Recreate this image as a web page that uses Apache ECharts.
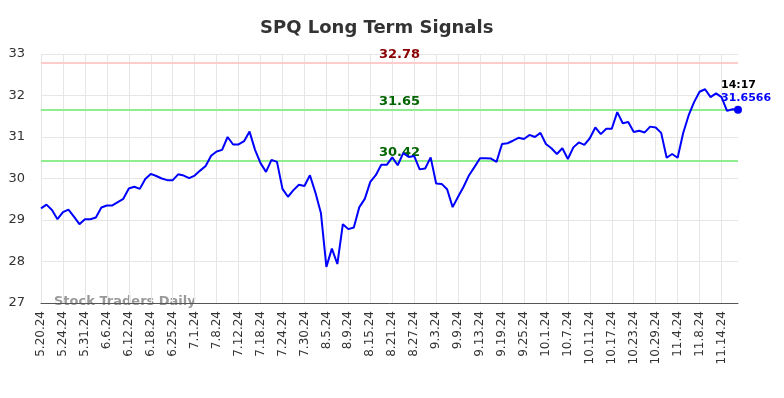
<!DOCTYPE html>
<html>
<head>
<meta charset="utf-8">
<style>
  html, body { margin: 0; padding: 0; background: #fff; }
  #chart { width: 784px; height: 398px; }
</style>
<script src="https://cdn.jsdelivr.net/npm/echarts@6/dist/echarts.min.js"></script>
</head>
<body>
<div id="chart"></div>
<script>
// trading days, 5.20.24 - 11.19.24
var dates = [
  '5.20.24','5.21.24','5.22.24','5.23.24','5.24.24','5.28.24','5.29.24','5.30.24','5.31.24',
  '6.3.24','6.4.24','6.5.24','6.6.24','6.7.24','6.10.24','6.11.24','6.12.24','6.13.24','6.14.24',
  '6.17.24','6.18.24','6.20.24','6.21.24','6.24.24','6.25.24','6.26.24','6.27.24','6.28.24',
  '7.1.24','7.2.24','7.3.24','7.5.24','7.8.24','7.9.24','7.10.24','7.11.24','7.12.24','7.15.24',
  '7.16.24','7.17.24','7.18.24','7.19.24','7.22.24','7.23.24','7.24.24','7.25.24','7.26.24',
  '7.29.24','7.30.24','7.31.24',
  '8.1.24','8.2.24','8.5.24','8.6.24','8.7.24','8.8.24','8.9.24','8.12.24','8.13.24','8.14.24',
  '8.15.24','8.16.24','8.19.24','8.20.24','8.21.24','8.22.24','8.23.24','8.26.24','8.27.24',
  '8.28.24','8.29.24','8.30.24',
  '9.3.24','9.4.24','9.5.24','9.6.24','9.9.24','9.10.24','9.11.24','9.12.24','9.13.24','9.16.24',
  '9.17.24','9.18.24','9.19.24','9.20.24','9.23.24','9.24.24','9.25.24','9.26.24','9.27.24','9.30.24',
  '10.1.24','10.2.24','10.3.24','10.4.24','10.7.24','10.8.24','10.9.24','10.10.24','10.11.24',
  '10.14.24','10.15.24','10.16.24','10.17.24','10.18.24','10.21.24','10.22.24','10.23.24',
  '10.24.24','10.25.24','10.28.24','10.29.24','10.30.24','10.31.24',
  '11.1.24','11.4.24','11.5.24','11.6.24','11.7.24','11.8.24','11.11.24','11.12.24','11.13.24',
  '11.14.24','11.15.24','11.18.24','11.19.24'
];

var prices = [
  29.28,29.37,29.24,29.02,29.19,29.25,29.08,28.90,29.02,29.02,
  29.06,29.30,29.35,29.35,29.43,29.51,29.76,29.80,29.75,29.99,
  30.11,30.06,30.00,29.96,29.96,30.10,30.07,30.01,30.07,30.19,
  30.30,30.55,30.65,30.69,31.00,30.82,30.82,30.90,31.13,30.69,
  30.37,30.16,30.45,30.40,29.75,29.56,29.72,29.85,29.82,30.08,
  29.66,29.17,27.87,28.31,27.94,28.90,28.78,28.82,29.31,29.51,
  29.92,30.08,30.33,30.33,30.51,30.32,30.61,30.52,30.54,30.22,
  30.24,30.51,29.88,29.87,29.74,29.31,29.56,29.80,30.08,30.28,
  30.49,30.49,30.48,30.40,30.83,30.85,30.91,30.98,30.95,31.05,
  31.00,31.10,30.83,30.73,30.59,30.73,30.47,30.75,30.87,30.81,
  30.97,31.23,31.07,31.20,31.20,31.60,31.33,31.36,31.12,31.15,
  31.11,31.25,31.23,31.10,30.50,30.59,30.50,31.09,31.52,31.84,
  32.09,32.15,31.96,32.05,31.96,31.63,31.67,31.6566
];

var signalValues = [32.78, 31.65, 30.42];
var signalLineColors = ['#ffcccc', '#90ee90', '#90ee90'];
var signalTextColors = ['#8b0000', '#006400', '#006400'];

var lastTime = '14:17';
var yMin = 27, yMax = 33, yStep = 1;

var chart = echarts.init(document.getElementById('chart'));

var signalLines = signalValues.map(function (v, i) {
  return {
    yAxis: v,
    lineStyle: { color: signalLineColors[i], width: 2, type: 'solid' },
    label: {
      show: true,
      position: 'insideMiddleTop',
      formatter: v.toFixed(2),
      color: signalTextColors[i],
      fontSize: 13,
      fontWeight: 'bold',
      distance: 2,
      offset: [10, 0]
    }
  };
});

var lastIdx = prices.length - 1;

var option = {
  animation: false,
  textStyle: { fontFamily: 'DejaVu Sans' },
  title: {
    text: 'SPQ Long Term Signals',
    left: 255,
    top: 14,
    textStyle: { fontSize: 18, fontWeight: 'bold', color: '#333', fontFamily: 'DejaVu Sans' }
  },
  grid: { left: 41, right: 46, top: 54, bottom: 95, containLabel: false },
  graphic: [{
    type: 'text',
    left: 54,
    top: 295,
    style: {
      text: 'Stock Traders Daily',
      fill: '#999',
      font: 'bold 13px "DejaVu Sans"'
    }
  }],
  xAxis: {
    type: 'category',
    data: dates,
    boundaryGap: false,
    axisLine: { lineStyle: { color: '#555', width: 1 } },
    axisTick: { show: false },
    axisLabel: {
      interval: 3,
      rotate: 90,
      margin: 8,
      color: '#333',
      fontSize: 12,
      fontFamily: 'DejaVu Sans'
    },
    splitLine: { show: true, interval: 3, lineStyle: { color: '#e6e6e6', width: 1 } }
  },
  yAxis: {
    type: 'value',
    min: yMin,
    max: yMax,
    interval: yStep,
    axisLine: { show: false },
    axisTick: { show: false },
    axisLabel: { color: '#333', fontSize: 13, margin: 16, fontFamily: 'DejaVu Sans' },
    splitLine: { lineStyle: { color: '#e6e6e6', width: 1 } }
  },
  series: [{
    type: 'line',
    data: prices,
    showSymbol: false,
    symbol: 'none',
    lineStyle: { color: '#0000ff', width: 2 },
    z: 3,
    markLine: {
      silent: true,
      symbol: ['none', 'none'],
      data: signalLines,
      z: 2
    },
    markPoint: {
      silent: true,
      data: [{
        coord: [lastIdx, prices[lastIdx]],
        symbol: 'circle',
        symbolSize: 8,
        itemStyle: { color: '#0000ff' },
        label: {
          show: true,
          position: [-13, -27],
          align: 'left',
          formatter: '{t|' + lastTime + '}\n{v|' + prices[lastIdx] + '}',
          rich: {
            t: { color: '#000', fontSize: 11, fontWeight: 'bold', lineHeight: 13, fontFamily: 'DejaVu Sans' },
            v: { color: '#0000ff', fontSize: 11, fontWeight: 'bold', lineHeight: 13, fontFamily: 'DejaVu Sans' }
          }
        }
      }]
    }
  }]
};

chart.setOption(option);
</script>
</body>
</html>
